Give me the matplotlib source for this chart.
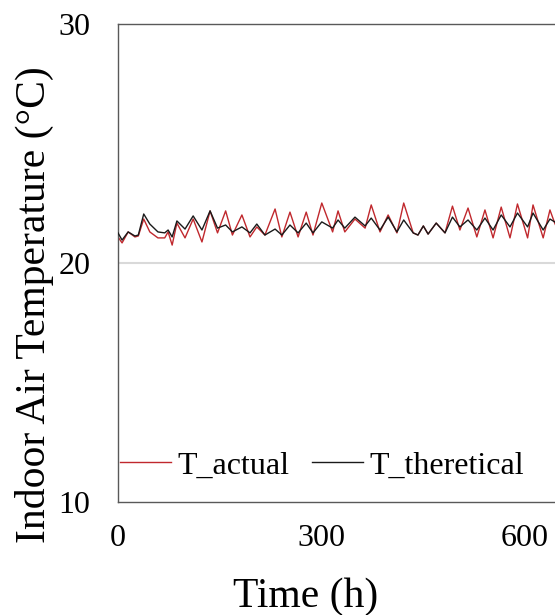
import matplotlib
matplotlib.use("Agg")
from matplotlib import pyplot as plt

# hours at peaks / troughs
hours = [0, 6, 15, 25, 30, 38, 47, 59, 69, 74, 80, 87, 99, 111, 124, 136, 147, 159,
         169, 183, 195, 205, 217, 232, 242, 254, 266, 278, 288, 301, 317, 325, 335,
         350, 365, 374, 387, 399, 412, 422, 436, 443, 451, 458, 470, 483, 494, 505,
         517, 530, 542, 554, 566, 579, 590, 605, 613, 628, 638, 645, 653]

t_actual = [21.09, 20.84, 21.30, 21.09, 21.13, 21.84, 21.30, 21.05, 21.05, 21.30, 20.75,
            21.67, 21.05, 21.84, 20.88, 22.18, 21.26, 22.18, 21.17, 22.01, 21.09, 21.51,
            21.17, 22.26, 21.09, 22.13, 21.09, 22.13, 21.17, 22.51, 21.30, 22.18, 21.30,
            21.84, 21.46, 22.43, 21.30, 22.01, 21.26, 22.51, 21.26, 21.17, 21.55, 21.21,
            21.67, 21.26, 22.38, 21.38, 22.30, 21.09, 22.22, 21.05, 22.34, 21.05, 22.47,
            21.05, 22.43, 21.05, 22.22, 21.67, 21.17]

t_theoretical = [21.26, 20.96, 21.30, 21.13, 21.17, 22.05, 21.63, 21.30, 21.26, 21.38, 21.09,
                 21.76, 21.42, 21.97, 21.38, 22.18, 21.46, 21.59, 21.30, 21.51, 21.26, 21.63,
                 21.17, 21.42, 21.17, 21.59, 21.26, 21.67, 21.26, 21.72, 21.46, 21.80, 21.46,
                 21.92, 21.55, 21.88, 21.38, 21.92, 21.30, 21.80, 21.26, 21.17, 21.55, 21.21,
                 21.67, 21.26, 21.92, 21.51, 21.80, 21.38, 21.88, 21.38, 22.01, 21.51, 22.09,
                 21.51, 22.09, 21.38, 21.84, 21.72, 21.55]

setpoint = 20
x_ticks = [0, 300, 600]
y_ticks = [10, 20, 30]

plt.rcParams['font.family'] = ['Liberation Serif', 'DejaVu Serif']

fig = plt.figure(figsize=(5.55, 6.15), dpi=100)
# axes runs past the right edge, like the cropped original
ax = fig.add_axes([118 / 555, 1 - 502 / 615, 457 / 555, 478 / 615])

ax.axhline(setpoint, color='#d9d9d9', linewidth=1.5, zorder=1)
ax.plot(hours, t_actual, color='#c0282d', linewidth=1.0, label='T_actual', zorder=2)
ax.plot(hours, t_theoretical, color='#1a1a1a', linewidth=1.0, label='T_theretical', zorder=3)

ax.set_xlim(0, 675)
ax.set_ylim(10, 30)
ax.set_xticks(x_ticks)
ax.set_yticks(y_ticks)
ax.tick_params(length=0, labelsize=23)
ax.tick_params(axis='y', pad=20)
ax.tick_params(axis='x', pad=16)

ax.spines['right'].set_visible(False)
for side in ['left', 'top', 'bottom']:
    ax.spines[side].set_color('#595959')
    ax.spines[side].set_linewidth(1.0)

ax.set_xlabel('Time (h)', fontsize=30)
ax.set_ylabel('Indoor Air Temperature (°C)', fontsize=30)
ax.xaxis.set_label_coords((306 - 118) / 457, -0.158)
ax.yaxis.set_label_coords((54 - 118) / 457, (502 - 305) / 478)

ax.legend(loc='lower left', bbox_to_anchor=(0.005, 0.045), ncol=2, frameon=False,
          fontsize=23, handlelength=1.6, handletextpad=0.2, columnspacing=0.7,
          borderpad=0, borderaxespad=0)

fig.savefig('out.png', dpi=100)
